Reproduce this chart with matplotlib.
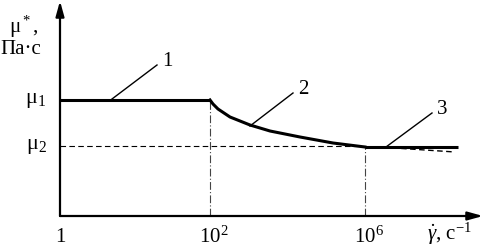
import matplotlib

matplotlib.use("Agg")
import matplotlib.pyplot as plt

plt.rcParams["font.family"] = ["Liberation Serif", "DejaVu Serif"]
plt.rcParams["mathtext.fontset"] = "custom"
plt.rcParams["mathtext.rm"] = "Liberation Serif"
plt.rcParams["mathtext.it"] = "Liberation Serif:italic"

# schematic units: x grows to the right from the origin, y upward from the x-axis
TICK_POS = [0, 150, 305]
TICK_LABELS = ["1", r"$10^2$", r"$10^6$"]
MU_LEVELS = [116, 70]
MU_LABELS = [r"$\mathrm{μ}_1$", r"$\mathrm{μ}_2$"]

CURVE1_X = [0, 150]
CURVE1_Y = [116, 116]
CURVE2_X = [150, 153, 158, 170, 190, 210, 240, 273, 305]
CURVE2_Y = [116, 112, 107, 99, 91, 85, 79, 73, 69]
CURVE3_X = [305, 398]
CURVE3_Y = [69, 69]
EXT_X = [305, 335, 395]
EXT_Y = [69, 68, 64]

# leader lines: (point on curve, label position, label)
LEADERS = [
    ((52, 117), (97, 151), "1"),
    ((190, 90), (233, 123), "2"),
    ((326, 69), (372, 103), "3"),
]

fig = plt.figure(figsize=(4.84, 2.48), dpi=100)
ax = fig.add_axes([0, 0, 1, 1])
ax.set_xlim(-60, 424)
ax.set_ylim(-32, 216)
ax.axis("off")

# axes with arrows
ax.annotate("", xy=(423, 0), xytext=(0, 0),
            arrowprops=dict(arrowstyle="-|>,head_length=0.9,head_width=0.25",
                            color="black", lw=1.6, shrinkA=0, shrinkB=0))
ax.annotate("", xy=(0, 215), xytext=(0, 0),
            arrowprops=dict(arrowstyle="-|>,head_length=0.9,head_width=0.25",
                            color="black", lw=1.6, shrinkA=0, shrinkB=0))

# dashed mu2 level and extension
ax.plot([0, TICK_POS[2]], [MU_LEVELS[1], MU_LEVELS[1]], color="black",
        lw=0.8, ls=(0, (5, 3)))
ax.plot(EXT_X, EXT_Y, color="black", lw=1.0, ls=(0, (4, 2.5)))

# dash-dot drop lines
ax.plot([TICK_POS[1], TICK_POS[1]], [0, CURVE1_Y[-1]], color="#444444",
        lw=0.8, ls=(0, (7, 2, 1, 2)))
ax.plot([TICK_POS[2], TICK_POS[2]], [0, CURVE3_Y[0]], color="#444444",
        lw=0.8, ls=(0, (7, 2, 1, 2)))

# curves
ax.plot(CURVE1_X, CURVE1_Y, color="black", lw=2.2, solid_capstyle="butt")
ax.plot(CURVE2_X, CURVE2_Y, color="black", lw=2.2, solid_joinstyle="round")
ax.plot(CURVE3_X, CURVE3_Y, color="black", lw=2.2, solid_capstyle="butt")

for (px, py), (lx, ly), label in LEADERS:
    ax.plot([px, lx], [py, ly], color="black", lw=1.0)
    ax.text(lx + 10, ly + 4, label, fontsize=15, ha="center", va="center")

# tick labels
for pos, label in zip(TICK_POS, TICK_LABELS):
    ax.text(pos + 4 if pos else pos, -21, label, fontsize=15, ha="center", va="center")
ax.text(389, -18, r"$\dot{γ}$, с$^{-1}$", fontsize=15, ha="center", va="center")

for level, label in zip(MU_LEVELS, MU_LABELS):
    ax.text(-24, level, label, fontsize=16, ha="center", va="center")

ax.text(-51, 189, r"μ$^*$,", fontsize=15, ha="left", va="center")
ax.text(-60, 166, "Па·с", fontsize=15, ha="left", va="center")

fig.savefig("out.png", dpi=100)
